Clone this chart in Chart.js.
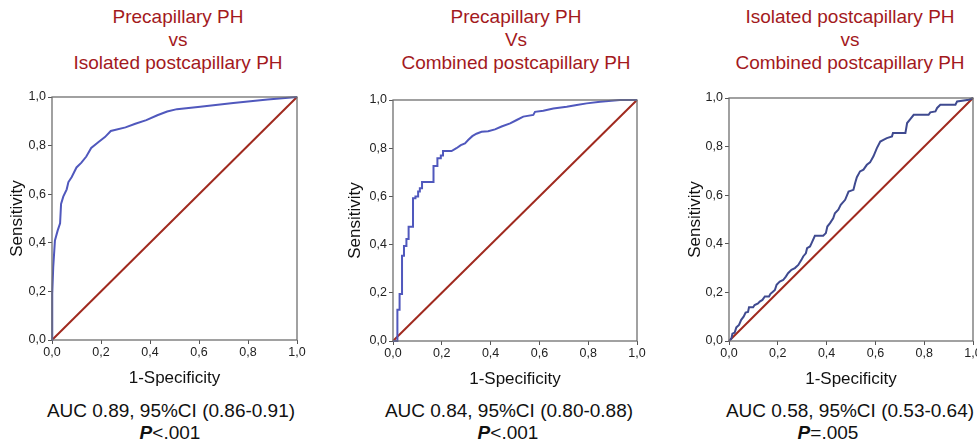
<!DOCTYPE html>
<html>
<head>
<meta charset="utf-8">
<script src="https://cdn.jsdelivr.net/npm/chart.js@4.4.1/dist/chart.umd.min.js"></script>
<style>
  body { margin: 0; background: #fff; width: 977px; height: 444px; overflow: hidden; position: relative;
         font-family: "Liberation Sans", Arial, sans-serif; }
  canvas { position: absolute; }
  .title { position: absolute; color: #a3191d; font-size: 19px; line-height: 23px; text-align: center;
           width: 320px; top: 5px; }
  .stat { position: absolute; color: #111; font-size: 19px; text-align: center; width: 320px; }
</style>
</head>
<body>
<div class="title" style="left:18px">Precapillary PH<br>vs<br>Isolated postcapillary PH</div>
<div class="title" style="left:356px">Precapillary PH<br>Vs<br>Combined postcapillary PH</div>
<div class="title" style="left:690px">Isolated postcapillary PH<br>vs<br>Combined postcapillary PH</div>

<div class="stat" style="left:11px; top:400px">AUC 0.89, 95%CI (0.86-0.91)</div>
<div class="stat" style="left:10px; top:422px"><b><i>P</i></b>&lt;.001</div>
<div class="stat" style="left:349px; top:400px">AUC 0.84, 95%CI (0.80-0.88)</div>
<div class="stat" style="left:348px; top:422px"><b><i>P</i></b>&lt;.001</div>
<div class="stat" style="left:690px; top:400px">AUC 0.58, 95%CI (0.53-0.64)</div>
<div class="stat" style="left:668px; top:422px"><b><i>P</i></b>=.005</div>

<canvas id="roc1" width="310" height="300" style="left:0px; top:90px"></canvas>
<canvas id="roc2" width="313" height="300" style="left:338px; top:90px"></canvas>
<canvas id="roc3" width="299" height="300" style="left:678px; top:90px"></canvas>

<script>
const tickLabels = ['0,0', '0,2', '0,4', '0,6', '0,8', '1,0'];
const diagX = [0, 1];
const diagY = [0, 1];

// Precapillary vs isolated postcapillary
const fpr1 = [0, 0.001, 0.005, 0.012, 0.023, 0.033, 0.037, 0.046, 0.06, 0.067, 0.08, 0.10, 0.12, 0.14,
  0.16, 0.19, 0.216, 0.24, 0.30, 0.34, 0.385, 0.43, 0.47, 0.51, 0.605, 0.74, 0.88, 1];
const tpr1 = [0, 0.19, 0.30, 0.41, 0.45, 0.48, 0.56, 0.59, 0.62, 0.65, 0.67, 0.71, 0.73, 0.755,
  0.79, 0.815, 0.835, 0.86, 0.875, 0.89, 0.905, 0.925, 0.94, 0.95, 0.96, 0.975, 0.99, 1];

// Precapillary vs combined postcapillary
const fpr2 = [0, 0.005, 0.018, 0.018, 0.027, 0.027, 0.037, 0.037, 0.045, 0.045, 0.055, 0.055, 0.064,
  0.064, 0.082, 0.082, 0.092, 0.092, 0.103, 0.103, 0.11, 0.11, 0.119, 0.119, 0.164, 0.166, 0.166,
  0.182, 0.182, 0.196, 0.196, 0.205, 0.205, 0.24, 0.26, 0.278, 0.295, 0.308, 0.325, 0.342, 0.363,
  0.39, 0.418, 0.445, 0.48, 0.507, 0.534, 0.575, 0.582, 0.616, 0.657, 0.712, 0.753, 0.794, 0.849,
  0.93, 1];
const tpr2 = [0, 0, 0, 0.13, 0.13, 0.195, 0.195, 0.354, 0.354, 0.394, 0.394, 0.423, 0.423, 0.474,
  0.474, 0.592, 0.592, 0.60, 0.60, 0.62, 0.62, 0.634, 0.634, 0.66, 0.66, 0.67, 0.726, 0.726, 0.758,
  0.758, 0.77, 0.77, 0.788, 0.788, 0.80, 0.813, 0.82, 0.834, 0.85, 0.86, 0.868, 0.87, 0.878, 0.89,
  0.903, 0.917, 0.931, 0.938, 0.951, 0.955, 0.965, 0.972, 0.979, 0.986, 0.993, 1, 1];

// Isolated vs combined postcapillary
const fpr3 = [0, .01, .014, .023, .03, .041, .05, .06, .068, .078, .082, .099, .105, .119, .126, .137,
  .147, .164, .17, .18, .188, .195, .208, .222, .233, .242, .256, .27, .284, .29, .297, .304, .315,
  .32, .332, .338, .352, .386, .397, .403, .414, .427, .434, .448, .458, .476, .49, .51, .517, .524,
  .537, .551, .565, .578, .592, .606, .62, .633, .647, .668, .672, .723, .73, .743, .757, .818, .825,
  .846, .853, .866, .928, .935, .983, 1];
const tpr3 = [0, .01, .03, .034, .056, .066, .087, .10, .117, .12, .139, .139, .148, .155, .162, .169,
  .183, .183, .194, .203, .21, .231, .245, .251, .265, .279, .293, .30, .313, .323, .334, .348, .361,
  .382, .389, .402, .433, .433, .444, .471, .485, .505, .526, .54, .56, .581, .615, .622, .65, .674,
  .698, .705, .725, .735, .76, .794, .821, .828, .835, .842, .856, .856, .897, .913, .931, .931, .941,
  .945, .959, .972, .972, .986, .993, 1];

function zip(xs, ys) {
  return xs.map((x, i) => ({ x: x, y: ys[i] }));
}

// grey box round the plot area
const frame = {
  id: 'frame',
  afterDraw(chart) {
    const a = chart.chartArea;
    const ctx = chart.ctx;
    ctx.save();
    ctx.strokeStyle = '#6f6f6f';
    ctx.lineWidth = 1.3;
    ctx.strokeRect(a.left, a.top, a.right - a.left, a.bottom - a.top);
    ctx.restore();
  }
};

function fixSize(w, h) {
  return function (scale) {
    if (w != null) scale.width = w;
    if (h != null) scale.height = h;
    scale.paddingLeft = 0;
    scale.paddingRight = 0;
    scale.paddingTop = 0;
    scale.paddingBottom = 0;
  };
}

function makeRoc(id, fpr, tpr, curveColor, yWidth, pad) {
  new Chart(document.getElementById(id), {
    type: 'scatter',
    data: {
      datasets: [
        {
          data: zip(fpr, tpr),
          showLine: true,
          borderColor: curveColor,
          borderWidth: 2,
          pointRadius: 0,
          tension: 0,
          clip: 3
        },
        {
          data: zip(diagX, diagY),
          showLine: true,
          borderColor: '#a02a1f',
          borderWidth: 2,
          pointRadius: 0,
          clip: 3
        }
      ]
    },
    options: {
      responsive: false,
      animation: false,
      layout: { padding: pad },
      plugins: { legend: { display: false }, tooltip: { enabled: false } },
      scales: {
        x: {
          type: 'linear',
          min: 0,
          max: 1,
          afterFit: fixSize(null, 49),
          grid: { drawOnChartArea: false, tickLength: 4, color: '#555' },
          border: { display: false },
          ticks: {
            stepSize: 0.2,
            color: '#222',
            font: { size: 12.5, family: 'Liberation Sans' },
            padding: 1,
            maxRotation: 0,
            callback: (v, i) => tickLabels[i]
          },
          title: {
            display: true,
            text: '1-Specificity',
            color: '#111',
            font: { size: 17, family: 'Liberation Sans' },
            padding: { top: 9, bottom: 0 }
          }
        },
        y: {
          type: 'linear',
          min: 0,
          max: 1,
          afterFit: fixSize(yWidth, null),
          grid: { drawOnChartArea: false, tickLength: 4, color: '#555' },
          border: { display: false },
          ticks: {
            stepSize: 0.2,
            color: '#222',
            font: { size: 12.5, family: 'Liberation Sans' },
            padding: 2,
            callback: (v, i) => tickLabels[i]
          },
          title: {
            display: true,
            text: 'Sensitivity',
            color: '#111',
            font: { size: 17, family: 'Liberation Sans' },
            padding: { top: 7, bottom: 0 }
          }
        }
      }
    },
    plugins: [frame]
  });
}

makeRoc('roc1', fpr1, tpr1, '#5058bd', 52, { left: 0, right: 13, top: 7, bottom: 1 });
makeRoc('roc2', fpr2, tpr2, '#5058bd', 55, { left: 0, right: 14, top: 10, bottom: 0 });
makeRoc('roc3', fpr3, tpr3, '#3f4a90', 51, { left: 0, right: 4, top: 8, bottom: 0 });
</script>
</body>
</html>
